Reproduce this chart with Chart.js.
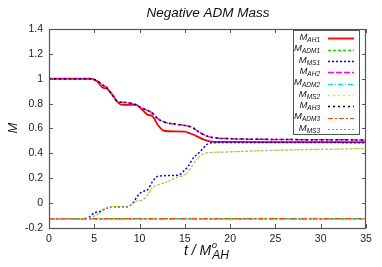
<!DOCTYPE html>
<html>
<head>
<meta charset="utf-8">
<script src="https://cdn.jsdelivr.net/npm/chart.js@4.4.1/dist/chart.umd.min.js"></script>
<style>
  html, body { margin: 0; padding: 0; background: #fff; }
  #wrap { width: 382px; height: 267px; }
</style>
</head>
<body>
<div id="wrap"><canvas id="myChart" width="382" height="267"></canvas></div>
<script>
// tick labels
const xTicks = ['0', '5', '10', '15', '20', '25', '30', '35'];
const yTicks = ['-0.2', '0', '0.2', '0.4', '0.6', '0.8', '1', '1.2', '1.4'];

// apparent horizon masses (AH1 red, AH2/AH3 overlapping)
const tAH1 = [0, 4.5, 5.3, 5.9, 6.4, 7.0, 7.6, 8.1, 9.6, 10.3, 10.9, 11.4, 12.0, 12.6, 13.2, 15.0, 15.6, 16.4, 17.1, 17.8, 19, 25, 35];
const mAH1 = [1, 1, 0.98, 0.93, 0.92, 0.87, 0.81, 0.79, 0.79, 0.75, 0.71, 0.70, 0.63, 0.585, 0.578, 0.575, 0.56, 0.535, 0.51, 0.497, 0.492, 0.49, 0.49];
const tAH2 = [0, 4.5, 5.3, 5.9, 6.3, 6.9, 7.5, 8.3, 9.5, 10.1, 10.7, 11.3, 12.0, 12.8, 14.0, 15.3, 15.9, 16.6, 17.4, 18.3, 20, 25, 35];
const mAH2 = [1, 1, 0.985, 0.95, 0.935, 0.88, 0.82, 0.81, 0.795, 0.77, 0.75, 0.73, 0.68, 0.65, 0.635, 0.62, 0.605, 0.57, 0.54, 0.525, 0.518, 0.512, 0.508];
const mAH3 = mAH2;

// ADM masses (constant)
const tADM = [0, 35];
const mADM1 = [-0.125, -0.125];
const mADM2 = [-0.128, -0.128];
const mADM3 = [-0.124, -0.124];

// MS masses
const tMS1 = [0, 3.8, 4.4, 5.0, 5.7, 6.3, 6.9, 8.6, 9.3, 9.8, 10.3, 10.9, 11.4, 12.1, 14.3, 14.9, 15.4, 15.9, 16.5, 17.0, 17.4, 18.0, 20, 35];
const mMS1 = [-0.125, -0.125, -0.115, -0.078, -0.065, -0.042, -0.03, -0.03, 0.005, 0.06, 0.093, 0.108, 0.17, 0.218, 0.225, 0.26, 0.30, 0.36, 0.40, 0.44, 0.47, 0.485, 0.488, 0.486];
const tMS2 = [0, 4.2, 5.1, 5.6, 6.1, 6.6, 8.6, 9.1, 9.6, 10.3, 10.9, 11.5, 12.0, 13.0, 14.2, 14.8, 15.3, 15.8, 16.3, 16.8, 17.5, 19, 22, 25, 30, 35];
const mMS2 = [-0.125, -0.125, -0.10, -0.08, -0.05, -0.03, -0.025, -0.014, 0.015, 0.025, 0.067, 0.13, 0.145, 0.17, 0.21, 0.22, 0.245, 0.30, 0.35, 0.385, 0.405, 0.41, 0.418, 0.425, 0.432, 0.438];
const mMS3 = mMS2;

function pts(ts, ms) {
    return ts.map((t, i) => ({ x: t, y: ms[i] }));
}

const series = [
    { name: 'AH1', color: '#ff0000', dash: [], width: 1.8, data: pts(tAH1, mAH1) },
    { name: 'ADM1', color: '#00e000', dash: [3, 2], width: 1.5, data: pts(tADM, mADM1) },
    { name: 'MS1', color: '#0000ff', dash: [2, 2], width: 1.5, data: pts(tMS1, mMS1) },
    { name: 'AH2', color: '#ff00ff', dash: [6, 2], width: 1.5, data: pts(tAH2, mAH2) },
    { name: 'ADM2', color: '#00e8e8', dash: [5, 2, 1, 2], width: 1.5, data: pts(tADM, mADM2) },
    { name: 'MS2', color: '#e8e800', dash: [2, 3], width: 1.5, data: pts(tMS2, mMS2) },
    { name: 'AH3', color: '#000000', dash: [2, 3], width: 1.5, data: pts(tAH2, mAH3) },
    { name: 'ADM3', color: '#ff4500', dash: [5, 2, 2, 2], width: 1.2, data: pts(tADM, mADM3) },
    { name: 'MS3', color: '#999999', dash: [2, 2], width: 1, data: pts(tMS2, mMS3) }
];

// draws frame, mirror ticks, titles and the gnuplot-like key
const decorations = {
    id: 'decorations',
    afterDraw(chart) {
        const c = chart.ctx;
        const a = chart.chartArea;
        const xs = chart.scales.x, ys = chart.scales.y;
        c.save();

        // frame
        c.strokeStyle = '#555';
        c.lineWidth = 1.2;
        c.setLineDash([]);
        c.strokeRect(a.left + 0.5, a.top + 0.5, a.right - a.left - 1, a.bottom - a.top);

        // inward ticks
        c.lineWidth = 1;
        c.beginPath();
        xTicks.forEach(v => {
            const px = Math.round(xs.getPixelForValue(Number(v))) + 0.5;
            c.moveTo(px, a.bottom); c.lineTo(px, a.bottom - 4);
            c.moveTo(px, a.top); c.lineTo(px, a.top + 4);
        });
        yTicks.forEach(v => {
            const py = Math.round(ys.getPixelForValue(Number(v))) + 0.5;
            c.moveTo(a.right, py); c.lineTo(a.right - 4, py);
            c.moveTo(a.left, py); c.lineTo(a.left + 4, py);
        });
        c.stroke();

        c.fillStyle = '#111';
        c.textBaseline = 'middle';

        // title
        c.textAlign = 'center';
        c.font = 'italic 13.5px "Liberation Sans", Arial, sans-serif';
        c.fillText('Negative ADM Mass', 208, 13);

        // y title
        c.save();
        c.translate(13, 128);
        c.rotate(-Math.PI / 2);
        c.font = 'italic 13px "Liberation Sans", Arial, sans-serif';
        c.fillText('M', 0, 0);
        c.restore();

        // x title: t / M^o_AH
        c.textAlign = 'left';
        c.font = 'italic 14px "Liberation Sans", Arial, sans-serif';
        const main = 't / M';
        let x0 = 184;
        c.fillText(main, x0, 251);
        const w = c.measureText(main).width;
        c.font = 'italic 9.5px "Liberation Sans", Arial, sans-serif';
        c.fillText('o', x0 + w + 0.5, 245);
        c.font = 'italic 12px "Liberation Sans", Arial, sans-serif';
        c.fillText('AH', x0 + w + 1, 256);

        // key
        const kx = 293, ky = 30, kw = 66, kh = 104;
        c.fillStyle = '#fff';
        c.fillRect(kx, ky, kw, kh);
        c.strokeStyle = '#555';
        c.lineWidth = 1;
        c.strokeRect(kx + 0.5, ky + 0.5, kw, kh);
        const subFont = 'italic 6.5px "Liberation Sans", Arial, sans-serif';
        const mFont = 'italic 9.5px "Liberation Sans", Arial, sans-serif';
        series.forEach((s, i) => {
            const yy = 38.3 + i * 11.33;
            c.font = subFont;
            const sw = c.measureText(s.name).width;
            c.font = mFont;
            const mw = c.measureText('M').width;
            const right = 320;
            c.fillStyle = '#111';
            c.textAlign = 'left';
            c.fillText('M', right - sw - mw, yy - 1);
            c.font = subFont;
            c.fillText(s.name, right - sw, yy + 2);
            c.strokeStyle = s.color;
            c.lineWidth = s.width;
            c.setLineDash(s.dash);
            c.beginPath();
            c.moveTo(328, Math.round(yy) + 0.5);
            c.lineTo(354, Math.round(yy) + 0.5);
            c.stroke();
            c.setLineDash([]);
        });
        c.restore();
    }
};

const ctx = document.getElementById('myChart').getContext('2d');
const myChart = new Chart(ctx, {
    type: 'line',
    data: {
        datasets: series.map((s, i) => ({
            label: 'M_' + s.name,
            data: s.data,
            borderColor: s.color,
            borderDash: s.dash,
            borderWidth: s.width,
            pointRadius: 0,
            fill: false,
            cubicInterpolationMode: 'monotone',
            order: series.length - i
        }))
    },
    options: {
        responsive: false,
        devicePixelRatio: 1,
        animation: false,
        layout: { padding: { top: 29, right: 16, left: 0, bottom: 0 } },
        plugins: { legend: { display: false }, tooltip: { enabled: false }, title: { display: false } },
        scales: {
            x: {
                type: 'linear',
                min: 0, max: 35,
                afterFit(scale) { scale.height = 39; },
                grid: { display: false, drawTicks: false },
                border: { display: false },
                ticks: {
                    stepSize: 5, padding: 5, maxRotation: 0,
                    color: '#222',
                    font: { family: '"Liberation Sans", Arial, sans-serif', size: 10.5 },
                    callback: (v) => xTicks[Math.round(v / 5)]
                }
            },
            y: {
                type: 'linear',
                min: -0.2, max: 1.4,
                afterFit(scale) { scale.width = 49; },
                grid: { display: false, drawTicks: false },
                border: { display: false },
                ticks: {
                    stepSize: 0.2, padding: 6,
                    color: '#222',
                    font: { family: '"Liberation Sans", Arial, sans-serif', size: 10.5 },
                    callback: (v) => yTicks[Math.round((v + 0.2) / 0.2)]
                }
            }
        }
    },
    plugins: [decorations]
});
</script>
</body>
</html>
